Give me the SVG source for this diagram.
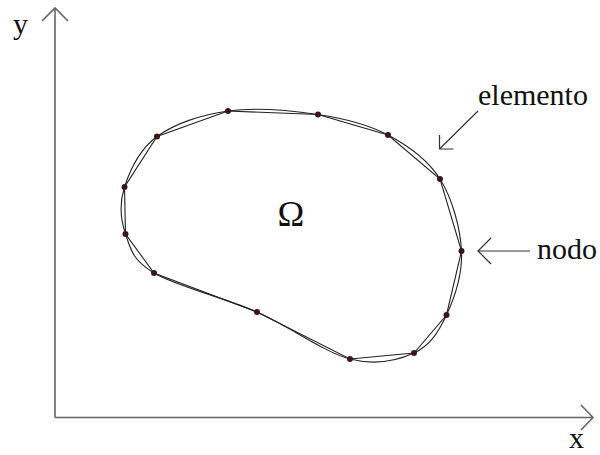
<svg xmlns="http://www.w3.org/2000/svg" width="600" height="455" viewBox="0 0 600 455">
<style>
.axis{fill:none;stroke:#666;stroke-width:1.6}
.ln{fill:none;stroke:#222;stroke-width:1.1}
.arr{fill:none;stroke:#333;stroke-width:1.2}
.nd{fill:#3a1616}
.t{font-family:'Liberation Serif',Tinos,'Times New Roman',Times,serif;fill:#111;font-size:30px}
</style>
<rect width="600" height="455" fill="#fff"/>
<g id="axes">
<path class="axis" d="M55 417.5 V8 M42 21 L55 8 L68 21 M55 417.5 H593 M581 405 L593 417.5 L581 430"/>
<text class="t" x="13" y="34">y</text>
<text class="t" x="569" y="448">x</text>
</g>
<g id="connectors">
<path id="domain" class="ln" d="M228 111 C254.83 107.33 291.33 110.5 318 114.5 C344.67 118.5 367.67 124.25 388 135 C408.33 145.75 427.75 159.67 440 179 C452.25 198.33 460.42 228.33 461.5 251 C462.58 273.67 454.42 298 446.5 315 C438.58 332 430.08 345.67 414 353 C397.92 360.33 376.17 365.83 350 359 C323.83 352.17 289.67 326.33 257 312 C224.33 297.67 175.92 286 154 273 C132.08 260 130.42 248.33 125.5 234 C120.58 219.67 119.25 203.25 124.5 187 C129.75 170.75 139.75 149.17 157 136.5 C174.25 123.83 201.17 114.67 228 111 Z"/>
<polygon id="mesh" class="ln" points="228,111 318,114.5 388,135 440,179 461.5,251 446.5,315 414,353 350,359 257,312 154,273 125.5,234 124.5,187 157,136.5"/>
<path id="arrow-elemento" class="arr" d="M478 111 L439.5 149 M453.5 149 L439.5 149 L439.5 135"/>
<path id="arrow-nodo" class="arr" d="M530 251 H478 M491 238 L478 251 L491 264"/>
</g>
<g id="nodes">
<circle class="nd" cx="228" cy="111" r="3"/>
<circle class="nd" cx="318" cy="114.5" r="3"/>
<circle class="nd" cx="388" cy="135" r="3"/>
<circle class="nd" cx="440" cy="179" r="3"/>
<circle class="nd" cx="461.5" cy="251" r="3"/>
<circle class="nd" cx="446.5" cy="315" r="3"/>
<circle class="nd" cx="414" cy="353" r="3"/>
<circle class="nd" cx="350" cy="359" r="3"/>
<circle class="nd" cx="257" cy="312" r="3"/>
<circle class="nd" cx="154" cy="273" r="3"/>
<circle class="nd" cx="125.5" cy="234" r="3"/>
<circle class="nd" cx="124.5" cy="187" r="3"/>
<circle class="nd" cx="157" cy="136.5" r="3"/>
</g>
<g id="labels">
<text class="t" x="291" y="226" text-anchor="middle" style="font-size:36px">Ω</text>
<text class="t" x="478" y="105">elemento</text>
<text class="t" x="537" y="259">nodo</text>
</g>
</svg>
